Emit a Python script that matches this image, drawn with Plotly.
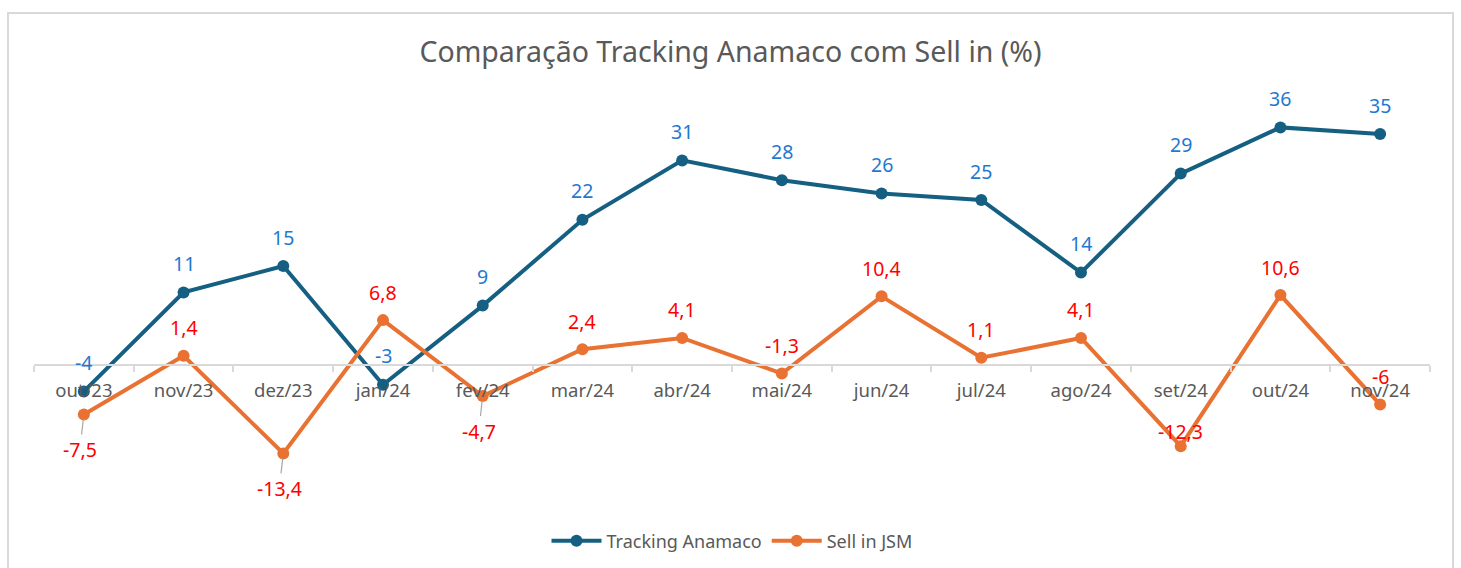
import plotly.graph_objects as go

categories = ["out/23", "nov/23", "dez/23", "jan/24", "fev/24", "mar/24", "abr/24",
              "mai/24", "jun/24", "jul/24", "ago/24", "set/24", "out/24", "nov/24"]
tracking = [-4, 11, 15, -3, 9, 22, 31, 28, 26, 25, 14, 29, 36, 35]
sell_in = [-7.5, 1.4, -13.4, 6.8, -4.7, 2.4, 4.1, -1.3, 10.4, 1.1, 4.1, -12.3, 10.6, -6]
tracking_labels = ["-4", "11", "15", "-3", "9", "22", "31", "28", "26", "25", "14", "29", "36", "35"]
sell_labels = ["-7,5", "1,4", "-13,4", "6,8", "-4,7", "2,4", "4,1", "-1,3", "10,4", "1,1", "4,1", "-12,3", "10,6", "-6"]
# label placement for Sell in: "above" or "below" (leader line)
sell_pos = ["below", "above", "below", "above", "below", "above", "above",
            "above", "above", "above", "above", "mid", "above", "above"]

W, H = 1461, 568
mt, mb, ml, mr = 90, 68, 34, 31
plot_h = H - mt - mb
px_per_unit = 6.6
zero_px = 365
ymax = (zero_px - mt) / px_per_unit
ymin = -((H - mb) - zero_px) / px_per_unit

C_TRACK = "#156082"
C_SELL = "#E97132"
C_BLUE_LBL = "#1f78d1"
C_RED_LBL = "#FF0000"
FONT = "Noto Sans"
LBL_SIZE = 19.5

fig = go.Figure()
fig.add_trace(go.Scatter(
    x=categories, y=tracking, name="Tracking Anamaco", mode="lines+markers",
    line=dict(color=C_TRACK, width=4), marker=dict(color=C_TRACK, size=12)))
fig.add_trace(go.Scatter(
    x=categories, y=sell_in, name="Sell in JSM", mode="lines+markers",
    line=dict(color=C_SELL, width=4), marker=dict(color=C_SELL, size=12)))

annotations = []
for c, v, t in zip(categories, tracking, tracking_labels):
    annotations.append(dict(x=c, y=v, text=t, showarrow=False, yshift=29,
                            yanchor="middle",
                            font=dict(family=FONT, size=LBL_SIZE, color=C_BLUE_LBL)))
for c, v, t, p in zip(categories, sell_in, sell_labels, sell_pos):
    if p == "above":
        annotations.append(dict(x=c, y=v, text=t, showarrow=False, yshift=28,
                                yanchor="middle",
                                font=dict(family=FONT, size=LBL_SIZE, color=C_RED_LBL)))
    elif p == "mid":
        annotations.append(dict(x=c, y=v, text=t, showarrow=False, yshift=15,
                                yanchor="middle",
                                font=dict(family=FONT, size=LBL_SIZE, color=C_RED_LBL)))
    else:
        annotations.append(dict(x=c, y=v, text=t, showarrow=True, arrowhead=0,
                                arrowwidth=1.2, arrowcolor="#a6a6a6", ax=-4, ay=35,
                                standoff=5,
                                font=dict(family=FONT, size=LBL_SIZE, color=C_RED_LBL)))

fig.update_layout(
    width=W, height=H,
    margin=dict(l=ml, r=mr, t=mt, b=mb, autoexpand=False),
    paper_bgcolor="white", plot_bgcolor="white",
    title=dict(text="Comparação Tracking Anamaco com Sell in (%)", x=0.5, xanchor="center",
               y=1 - 52 / H, yanchor="middle",
               font=dict(family=FONT, size=28.5, color="#595959")),
    font=dict(family=FONT, color="#595959"),
    showlegend=True,
    legend=dict(orientation="h", x=0.5, xanchor="center", y=-(541 - (H - mb)) / plot_h,
                yanchor="middle", font=dict(family=FONT, size=18, color="#595959"),
                itemwidth=50),
    annotations=annotations,
    shapes=[dict(type="rect", xref="paper", yref="paper",
                 x0=-(ml - 8) / (W - ml - mr), x1=1 + (1453 - (W - mr)) / (W - ml - mr),
                 y0=-(H + 10 - (H - mb)) / plot_h, y1=1 + (mt - 13) / plot_h,
                 line=dict(color="#d9d9d9", width=2), layer="below")],
    xaxis=dict(type="category", anchor="free", position=(0 - ymin) / (ymax - ymin),
               automargin=False,
               showline=True, linecolor="#d9d9d9", linewidth=2,
               ticks="outside", tickson="boundaries", ticklen=6, tickcolor="#d9d9d9",
               tickwidth=2, showgrid=False, zeroline=False, ticklabelstandoff=9,
               tickfont=dict(family=FONT, size=18.5, color="#595959"),
               range=[-0.5, len(categories) - 0.5]),
    yaxis=dict(range=[ymin, ymax], visible=False, showgrid=False, zeroline=False,
               automargin=False),
)

fig.write_html("out.html", config={"displayModeBar": False},
               post_script="document.body.style.margin='0';document.body.style.overflow='hidden';")
